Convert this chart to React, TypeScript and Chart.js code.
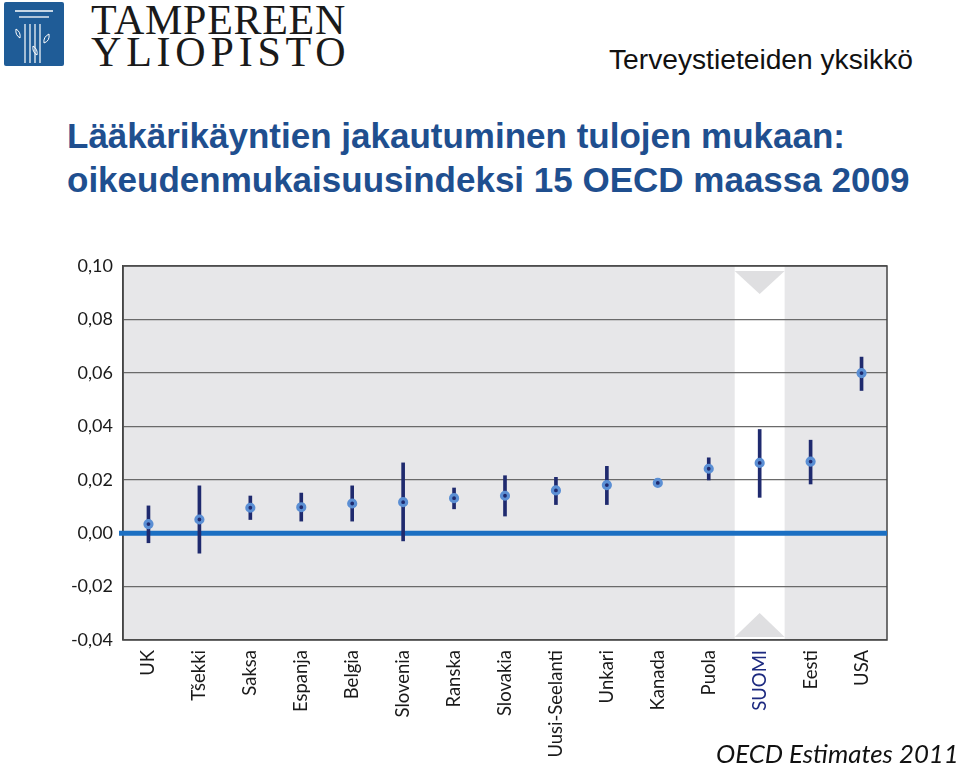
import React, { useEffect, useRef } from "react";
import { Chart, registerables } from "chart.js";

Chart.register(...registerables);

const categories = ["UK", "Tšekki", "Saksa", "Espanja", "Belgia", "Slovenia", "Ranska", "Slovakia", "Uusi-Seelanti", "Unkari", "Kanada", "Puola", "SUOMI", "Eesti", "USA"];
const indexValues = [0.0034, 0.0051, 0.0095, 0.0097, 0.0111, 0.0116, 0.0131, 0.014, 0.016, 0.018, 0.0188, 0.0241, 0.0263, 0.0268, 0.0599];
const lowerValues = [-0.0036, -0.0075, 0.0051, 0.0045, 0.0045, -0.0029, 0.0091, 0.0064, 0.0107, 0.0107, 0.0185, 0.0199, 0.0134, 0.0184, 0.0534];
const upperValues = [0.0102, 0.0177, 0.0139, 0.015, 0.0177, 0.0263, 0.0169, 0.0215, 0.0209, 0.025, 0.0191, 0.0282, 0.0388, 0.0348, 0.0659];
const highlighted = "SUOMI";
const yMin = -0.04;
const yMax = 0.1;
const yStep = 0.02;

const NAVY = "#1f2a6e";
const LIGHT = "#5b8fd4";
const ZERO_BLUE = "#1b6fc2";
const PLOT_BG = "#e7e7e9";

const plotDecor = {
  id: "plotDecor",
  beforeDraw(chart: any) {
    const { ctx, chartArea: a, scales } = chart;
    ctx.save();
    ctx.fillStyle = PLOT_BG;
    ctx.fillRect(a.left, a.top, a.right - a.left, a.bottom - a.top);
    const idx = categories.indexOf(highlighted);
    const cx = scales.x.getPixelForValue(idx);
    const cw = (a.right - a.left) / categories.length;
    const half = cw / 2 - 0.5;
    ctx.fillStyle = "#ffffff";
    ctx.fillRect(cx - half, a.top, half * 2, a.bottom - a.top);
    ctx.fillStyle = "#dfdfe1";
    ctx.beginPath();
    ctx.moveTo(cx - half, a.top + 5);
    ctx.lineTo(cx + half, a.top + 5);
    ctx.lineTo(cx, a.top + 28);
    ctx.closePath();
    ctx.fill();
    ctx.beginPath();
    ctx.moveTo(cx - half, a.bottom - 3);
    ctx.lineTo(cx + half, a.bottom - 3);
    ctx.lineTo(cx, a.bottom - 27);
    ctx.closePath();
    ctx.fill();
    ctx.restore();
  },
  beforeDatasetsDraw(chart: any) {
    const { ctx, chartArea: a, scales } = chart;
    const y0 = scales.y.getPixelForValue(0);
    ctx.save();
    ctx.strokeStyle = "#444";
    ctx.lineWidth = 1.5;
    ctx.strokeRect(a.left, a.top, a.right - a.left, a.bottom - a.top);
    ctx.strokeStyle = ZERO_BLUE;
    ctx.lineWidth = 5;
    ctx.beginPath();
    ctx.moveTo(a.left - 4, y0);
    ctx.lineTo(a.right, y0);
    ctx.stroke();
    ctx.restore();
  },
};

function ChartView() {
  const ref = useRef<HTMLCanvasElement | null>(null);
  useEffect(() => {
    if (!ref.current) return;
    const chart = new Chart(ref.current, {
      type: "bar",
      data: {
        labels: categories,
        datasets: [
          {
            type: "line",
            label: "Indeksi",
            data: indexValues,
            showLine: false,
            pointRadius: 3.5,
            pointBorderWidth: 3.2,
            pointBackgroundColor: NAVY,
            pointBorderColor: LIGHT,
            order: 0,
          } as any,
          {
            type: "bar",
            label: "Luottamusväli",
            data: lowerValues.map((lo, i) => [lo, upperValues[i]]),
            backgroundColor: NAVY,
            barThickness: 3,
            borderSkipped: false,
            order: 1,
          } as any,
        ],
      },
      options: {
        animation: false,
        responsive: true,
        maintainAspectRatio: false,
        layout: { padding: { top: 26, right: 73, left: 0, bottom: 0 } },
        plugins: { legend: { display: false }, tooltip: { enabled: false }, title: { display: false } },
        scales: {
          x: {
            offset: true,
            grid: { display: false, drawTicks: false },
            border: { display: false },
            ticks: {
              autoSkip: false,
              minRotation: 90,
              maxRotation: 90,
              padding: 10,
              font: { family: "Lato", size: 18.5 },
              color: (c: any) => (categories[c.index] === highlighted ? "#1d2a80" : "#1a1a1a"),
            },
            afterFit: (s: any) => {
              s.height = 126;
            },
          },
          y: {
            min: yMin,
            max: yMax,
            grid: { color: "#6a6a6a", lineWidth: 1.2, drawTicks: false },
            border: { display: true, color: "#444", width: 1.5 },
            ticks: {
              stepSize: yStep,
              padding: 10,
              font: { family: "Lato", size: 18 },
              color: "#1a1a1a",
              callback: (v: any) => Number(v).toFixed(2).replace(".", ","),
            },
            afterFit: (s: any) => {
              s.width = 123;
            },
          },
        },
      },
      plugins: [plotDecor],
    });
    return () => chart.destroy();
  }, []);
  return (
    <div style={{ position: "absolute", left: 0, top: 240, width: 960, height: 526 }}>
      <canvas ref={ref} />
    </div>
  );
}

function Logo() {
  return (
    <svg width="62" height="66" style={{ position: "absolute", left: 3, top: 1 }} viewBox="0 0 62 66">
      <rect x="1" y="1" width="60" height="64" rx="2" fill="#1f5c97" />
      <line x1="12" y1="10" x2="50" y2="10" stroke="#fff" strokeWidth="1.3" />
      <line x1="16" y1="16" x2="46" y2="16" stroke="#fff" strokeWidth="1.3" />
      <line x1="22" y1="23" x2="22" y2="62" stroke="#fff" strokeWidth="1.2" />
      <line x1="27" y1="23" x2="27" y2="62" stroke="#fff" strokeWidth="1.2" />
      <line x1="32" y1="23" x2="32" y2="62" stroke="#fff" strokeWidth="1.2" />
      <line x1="37" y1="23" x2="37" y2="62" stroke="#fff" strokeWidth="1.2" />
      <path d="M13 28 Q18 31 17 37 Q12 34 13 28 Z" fill="none" stroke="#fff" strokeWidth="1" />
      <path d="M46 33 Q47 40 41 42 Q40 36 46 33 Z" fill="none" stroke="#fff" strokeWidth="1" />
      <path d="M30 45 Q35 48 34 54 Q29 51 30 45 Z" fill="none" stroke="#fff" strokeWidth="1" />
    </svg>
  );
}

export default function App() {
  const serif = "'Liberation Serif', 'DejaVu Serif', serif";
  const sans = "'Liberation Sans', Arial, sans-serif";
  return (
    <div style={{ position: "absolute", left: 0, top: 0, width: 960, height: 766, background: "#fff", overflow: "hidden" }}>
      <Logo />
      <div style={{ position: "absolute", left: 91, top: -1, fontFamily: serif, fontSize: 42, lineHeight: "42px", color: "#1a1a1a", letterSpacing: 0.7, whiteSpace: "nowrap" }}>
        TAMPEREEN
      </div>
      <div style={{ position: "absolute", left: 91, top: 31, fontFamily: serif, fontSize: 42, lineHeight: "42px", color: "#1a1a1a", letterSpacing: 4.8, whiteSpace: "nowrap" }}>
        YLIOPISTO
      </div>
      <div style={{ position: "absolute", left: 609, top: 44, fontFamily: sans, fontSize: 28.2, lineHeight: "30px", color: "#111", whiteSpace: "nowrap" }}>
        Terveystieteiden yksikkö
      </div>
      <div style={{ position: "absolute", left: 67, top: 114, fontFamily: sans, fontWeight: "bold", fontSize: 35, lineHeight: "44px", color: "#1f4f8f", whiteSpace: "nowrap" }}>
        <div>Lääkärikäyntien jakautuminen tulojen mukaan:</div>
        <div>oikeudenmukaisuusindeksi 15 OECD maassa 2009</div>
      </div>
      <ChartView />
      <div style={{ position: "absolute", left: 716, top: 736, fontFamily: "Lato, sans-serif", fontStyle: "italic", fontSize: 25.8, lineHeight: "34px", color: "#111", whiteSpace: "nowrap" }}>
        OECD Estimates 2011
      </div>
    </div>
  );
}
